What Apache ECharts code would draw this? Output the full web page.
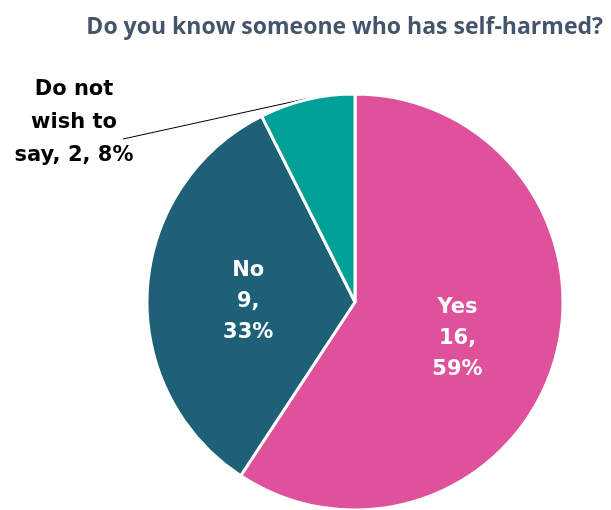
<!DOCTYPE html>
<html>
<head>
<meta charset="utf-8">
<script src="https://cdn.jsdelivr.net/npm/echarts@6/dist/echarts.min.js"></script>
<style>
  html, body { margin: 0; padding: 0; background: #ffffff; }
  #chart { width: 611px; height: 510px; }
</style>
</head>
<body>
<div id="chart"></div>
<script>
// Survey answers
const categories = ['Yes', 'No', 'Do not wish to say'];
const counts = [16, 9, 2];
const percents = [59, 33, 8];
const sliceColors = ['#DF519A', '#1D6078', '#00A096'];

const chart = echarts.init(document.getElementById('chart'));

const labelFont = 'DejaVu Sans, Verdana, sans-serif';
const pieCenter = [355, 302];
const pieRadius = 208;
const total = counts.reduce(function (a, b) { return a + b; }, 0);

// Point on the outer arc at the middle of slice i (clockwise from 12 o'clock)
function arcMidPoint(i, r) {
  let before = 0;
  for (let k = 0; k < i; k++) before += counts[k];
  const frac = (before + counts[i] / 2) / total;
  const a = frac * 2 * Math.PI;
  return [pieCenter[0] + r * Math.sin(a), pieCenter[1] - r * Math.cos(a)];
}

chart.setOption({
  animation: false,
  backgroundColor: '#ffffff',
  title: {
    text: 'Do you know someone who has self-harmed?',
    right: 3,
    top: 11,
    textStyle: {
      fontFamily: 'Open Sans, sans-serif',
      fontWeight: 'bold',
      fontSize: 23,
      color: '#44546A'
    }
  },
  series: [{
    type: 'pie',
    center: pieCenter,
    radius: pieRadius,
    startAngle: 90,
    clockwise: true,
    itemStyle: { borderColor: '#ffffff', borderWidth: 3 },
    label: {
      show: true,
      position: 'inside',
      fontFamily: labelFont,
      fontWeight: 'bold',
      fontSize: 21,
      lineHeight: 31,
      color: '#ffffff',
      align: 'center',
      formatter: function (p) {
        return categories[p.dataIndex] + '\n' + counts[p.dataIndex] + ',\n' + percents[p.dataIndex] + '%';
      }
    },
    data: categories.map(function (name, i) {
      const item = { name: name, value: counts[i], itemStyle: { color: sliceColors[i] } };
      if (i === 2) {
        item.label = {
          position: 'outside',
          color: '#000000',
          lineHeight: 33,
          formatter: function () {
            return 'Do not\nwish to\nsay, ' + counts[i] + ', ' + percents[i] + '%';
          }
        };
        item.labelLine = {
          show: true,
          length: 10,
          length2: 10,
          lineStyle: { color: '#000000', width: 1 }
        };
      }
      return item;
    }),
    labelLayout: function (p) {
      if (p.dataIndex !== 2) return { dy: 6 };
      const lx = 74, ly = 123;
      const start = arcMidPoint(2, pieRadius + 1);
      const end = [lx + 49, ly + 16];
      return {
        x: lx,
        y: ly,
        align: 'center',
        verticalAlign: 'middle',
        labelLinePoints: [start, end, end]
      };
    }
  }]
});
</script>
</body>
</html>
